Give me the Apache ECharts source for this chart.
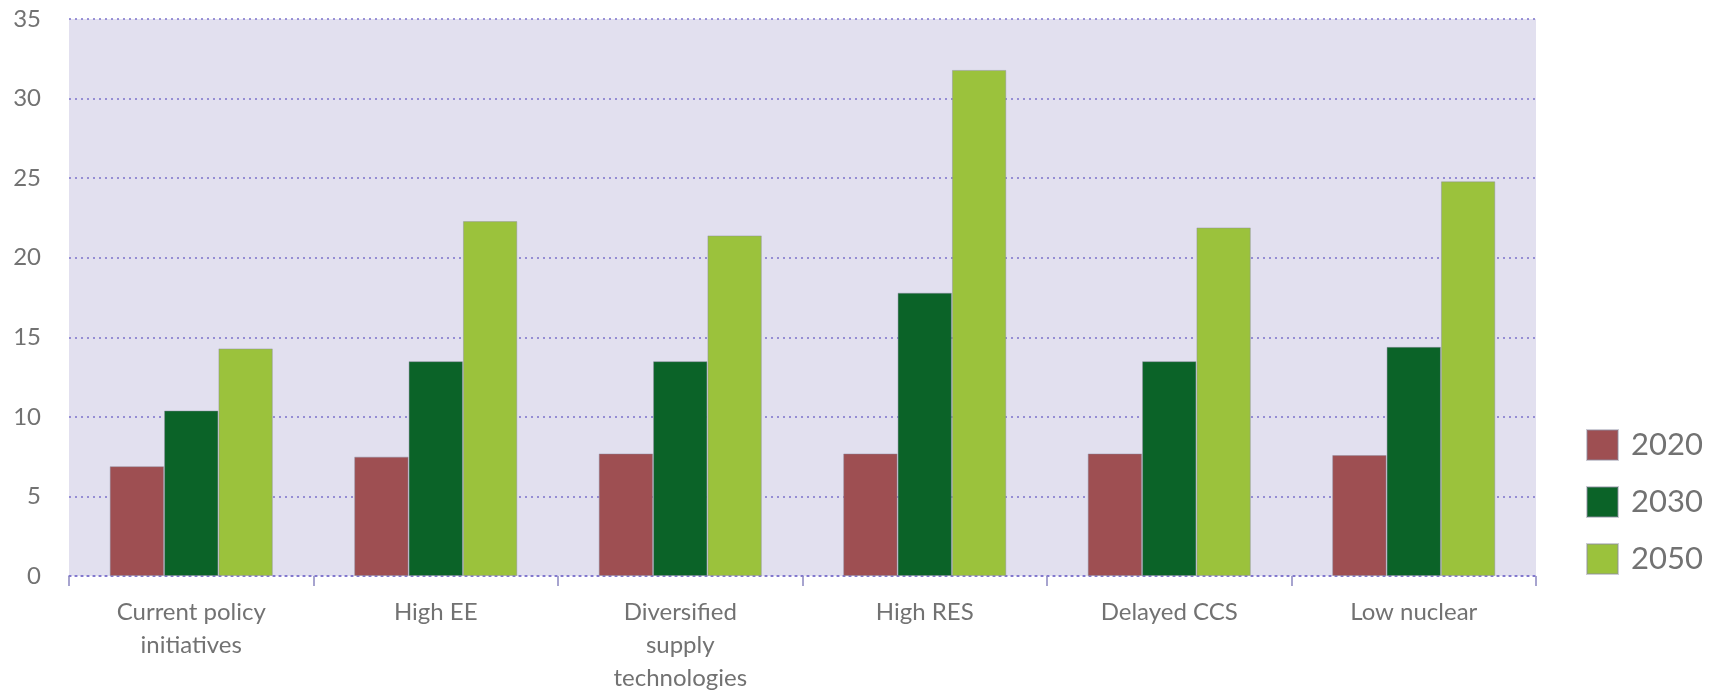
<!DOCTYPE html>
<html>
<head>
<meta charset="utf-8">
<script src="https://cdn.jsdelivr.net/npm/echarts@6/dist/echarts.min.js"></script>
<style>
  html,body{margin:0;padding:0;background:#fff;}
  #main{width:1716px;height:690px;}
</style>
</head>
<body>
<div id="main"></div>
<script>
// scenarios on the x axis
const categories = ['Current policy\ninitiatives', 'High EE', 'Diversified\nsupply\ntechnologies', 'High RES', 'Delayed CCS', 'Low nuclear'];
const yTicks = [0, 5, 10, 15, 20, 25, 30, 35];
// values
const v2020 = [6.9, 7.5, 7.7, 7.7, 7.7, 7.6];
const v2030 = [10.4, 13.5, 13.5, 17.8, 13.5, 14.4];
const v2050 = [14.3, 22.3, 21.4, 31.8, 21.9, 24.8];

const grey = '#727272';
const font = 'Lato, "Open Sans", sans-serif';

const bar = (name, data, color) => ({
    name: name,
    type: 'bar',
    data: data,
    barGap: '0%',
    barCategoryGap: '33.3%',
    itemStyle: { color: color, borderColor: 'rgba(140,140,160,0.45)', borderWidth: 1 },
    emphasis: { disabled: true }
});

const option = {
    animation: false,
    textStyle: { fontFamily: font },
    grid: {
        left: 69, right: 180, top: 19, height: 557,
        outerBoundsMode: 'none', containLabel: false,
        show: true, backgroundColor: '#e2e0ef', borderWidth: 0
    },
    legend: {
        orient: 'vertical',
        left: 1581,
        top: 424,
        itemWidth: 31,
        itemHeight: 30,
        itemGap: 25,
        icon: 'rect',
        textStyle: { fontSize: 31, color: grey, fontFamily: font, padding: [0, 0, 0, 8] },
        data: ['2020', '2030', '2050']
    },
    xAxis: {
        type: 'category',
        data: categories,
        axisLine: { show: true, lineStyle: { color: '#7c72cc', type: [2, 4], width: 1.5 } },
        axisTick: { show: true, length: 10, interval: 0, lineStyle: { color: '#8a86c0', width: 1.5 } },
        axisLabel: { interval: 0, margin: 20, fontSize: 24, lineHeight: 33, color: grey, fontFamily: font }
    },
    yAxis: {
        type: 'value',
        min: yTicks[0],
        max: yTicks[yTicks.length - 1],
        interval: 5,
        axisLine: { show: false },
        axisTick: { show: false },
        axisLabel: { margin: 28, fontSize: 24, color: grey, fontFamily: font },
        splitLine: { show: true, lineStyle: { color: '#7c72cc', type: [2, 4], width: 1.5 } }
    },
    series: [
        bar('2020', v2020, '#9e4f52'),
        bar('2030', v2030, '#0b6328'),
        bar('2050', v2050, '#9bc23c')
    ]
};

const chart = echarts.init(document.getElementById('main'));
chart.setOption(option);
</script>
</body>
</html>
